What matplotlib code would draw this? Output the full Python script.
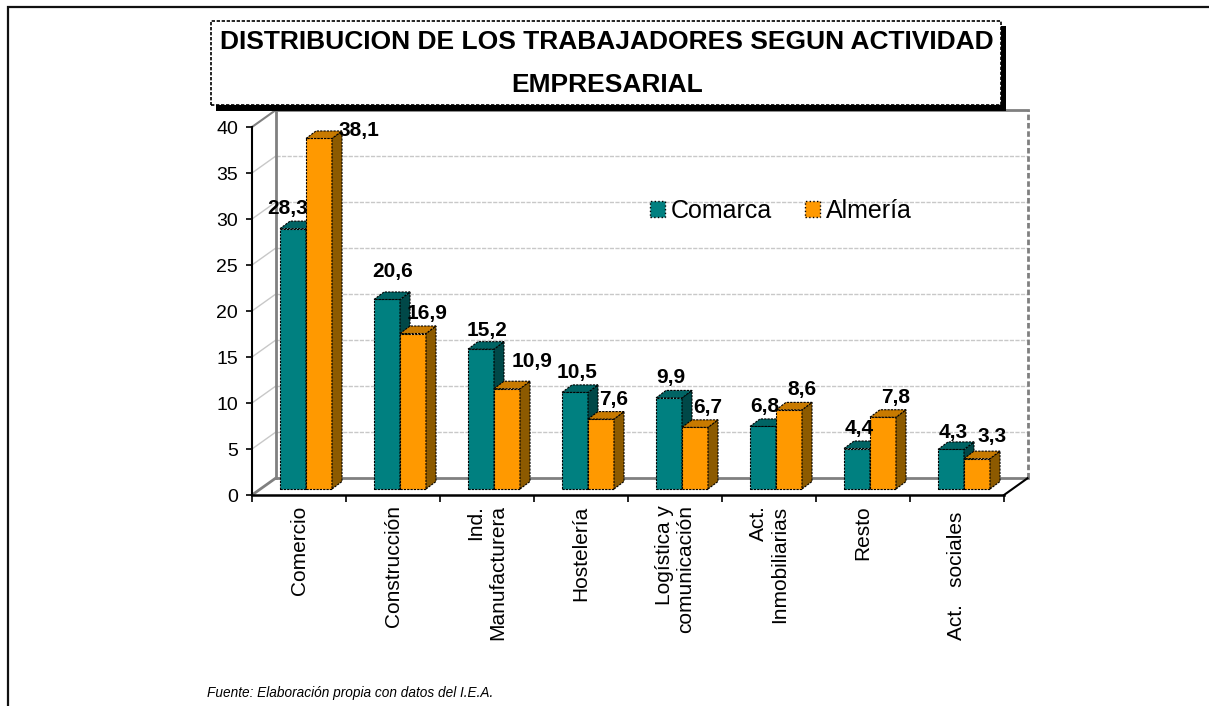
import matplotlib
matplotlib.use('Agg')
import matplotlib.pyplot as plt
from matplotlib.patches import Polygon, Rectangle, Patch
import numpy as np

# ---------------- data ----------------
categories = ['Comercio', 'Construcción', 'Ind.\nManufacturera', 'Hostelería',
              'Logística y\ncomunicación', 'Act.\nInmobiliarias', 'Resto', 'Act.   sociales ']
comarca = [28.3, 20.6, 15.2, 10.5, 9.9, 6.8, 4.4, 4.3]
almeria = [38.1, 16.9, 10.9, 7.6, 6.7, 8.6, 7.8, 3.3]
series_names = ['Comarca', 'Almería']
yticks = [0, 5, 10, 15, 20, 25, 30, 35, 40]
title_lines = ['DISTRIBUCION DE LOS TRABAJADORES SEGUN ACTIVIDAD', 'EMPRESARIAL']
source_text = 'Fuente: Elaboración propia con datos del I.E.A.'

# ---------------- style ----------------
plt.rcParams['font.family'] = ['Liberation Sans', 'DejaVu Sans']
W, H = 1209, 706
fig = plt.figure(figsize=(W / 100, H / 100), dpi=100)
fig.patch.set_facecolor('white')

def fx(px):
    return px / W

def fy(py):
    return 1 - py / H

face = {'Comarca': '#008080', 'Almería': '#FF9900'}
side = {'Comarca': '#004848', 'Almería': '#8C5A00'}
top = {'Comarca': '#006464', 'Almería': '#C87A00'}
edge_ls = (0, (2, 1))

# geometry (pixels)
x0_px, y0_px = 252, 495
cat_px, unit_px = 94, 9.2
n = len(categories)
ymax = 40
wall_dx, wall_dy = 0.25, 1.82          # depth of walls (data units)
bar_x0, bar_w = 28 / 94, 26 / 94         # bar placement within category
base = 6 / 9.2                          # bar base lifted by depth projection
ddx, ddy = 10 / 94, 7.5 / 9.2           # bar depth

ax = fig.add_axes([fx(x0_px), fy(y0_px), (n + wall_dx) * cat_px / W,
                   (ymax + wall_dy) * unit_px / H])
ax.set_xlim(0, n + wall_dx)
ax.set_ylim(0, ymax + wall_dy)
ax.patch.set_alpha(0)

# ---------------- walls ----------------
light = '#C8C8C8'
mid = '#808080'
for v in yticks[1:-1]:
    ax.plot([wall_dx, n + wall_dx], [v + wall_dy] * 2, color=light, lw=1,
            ls=(0, (3, 1)), zorder=1, clip_on=False)
    ax.plot([0, wall_dx], [v, v + wall_dy], color=light, lw=1, zorder=1, clip_on=False)
ax.plot([0, wall_dx], [ymax, ymax + wall_dy], color=mid, lw=1.5, zorder=1, clip_on=False)
ax.plot([wall_dx, n + wall_dx], [ymax + wall_dy] * 2, color=mid, lw=2, zorder=1, clip_on=False)
ax.plot([wall_dx] * 2, [wall_dy, ymax + wall_dy], color=mid, lw=2, zorder=1, clip_on=False)
ax.plot([n + wall_dx] * 2, [wall_dy, ymax + wall_dy], color=mid, lw=2,
        ls=(0, (2, 1)), zorder=1, clip_on=False)
ax.plot([0, wall_dx], [0, wall_dy], color=mid, lw=2, zorder=1, clip_on=False)
ax.plot([wall_dx, n + wall_dx], [wall_dy] * 2, color=mid, lw=2, zorder=1, clip_on=False)
ax.plot([n, n + wall_dx], [0, wall_dy], color='black', lw=1.5, zorder=1, clip_on=False)

# ---------------- bars ----------------
x = np.arange(n)
label_off = {
    'Comarca': [(-5, -20), (6, -28), (6, -19), (2, -20), (2, -20), (2, -20), (2, -20), (2, -17)],
    'Almería': [(40, -8), (14, -20), (25, -27), (13, -20), (13, -20), (13, -20), (13, -20), (15, -22)],
}
z = 3
for si, (name, vals) in enumerate(zip(series_names, [comarca, almeria])):
    left = x + bar_x0 + si * bar_w
    bars = ax.bar(left, vals, width=bar_w, bottom=base, align='edge',
                  color=face[name], edgecolor='black', linewidth=0.8, zorder=z)
    for b in bars:
        b.set_linestyle(edge_ls)
    for xl, v in zip(left, vals):
        xr = xl + bar_w
        yt = base + v
        sp = Polygon([(xr, base), (xr + ddx, base + ddy), (xr + ddx, yt + ddy), (xr, yt)],
                     closed=True, facecolor=side[name], edgecolor='black', lw=0.8,
                     ls=edge_ls, zorder=z)
        tp = Polygon([(xl, yt), (xl + ddx, yt + ddy), (xr + ddx, yt + ddy), (xr, yt)],
                     closed=True, facecolor=top[name], edgecolor='black', lw=0.8,
                     ls=edge_ls, zorder=z)
        ax.add_patch(sp)
        ax.add_patch(tp)
    for j, (xl, v) in enumerate(zip(left, vals)):
        ox, oy = label_off[name][j]
        ax.annotate(f'{v:.1f}'.replace('.', ','), xy=(xl + bar_w / 2, base + v),
                    xytext=(ox, -oy), textcoords='offset pixels', ha='center', va='center',
                    fontsize=15, fontweight='bold', zorder=10, annotation_clip=False)
    z += 1

# ---------------- axes ----------------
for s in ['top', 'right']:
    ax.spines[s].set_visible(False)
ax.spines['left'].set_bounds(0, ymax)
ax.spines['bottom'].set_bounds(0, n)
ax.spines['left'].set_linewidth(1.5)
ax.spines['bottom'].set_linewidth(1.8)
ax.spines['left'].set_zorder(2)
ax.set_yticks(yticks)
ax.set_yticklabels([str(t) for t in yticks], fontsize=14)
ax.tick_params(axis='y', direction='out', length=4, width=1.2, pad=6)
ax.set_xticks(np.arange(n + 1))
ax.set_xticklabels([])
ax.set_xticks(x + 0.5, minor=True)
ax.set_xticklabels(categories, minor=True, rotation=90, fontsize=15,
                   multialignment='right', va='top', ha='center')
ax.tick_params(axis='x', which='major', direction='out', length=5, width=1.2)
ax.tick_params(axis='x', which='minor', length=0, pad=7.5)

# ---------------- legend ----------------
handles = [Patch(facecolor=face[nm], edgecolor='black', linestyle=':', linewidth=1)
           for nm in series_names]
fig.legend(handles, series_names, loc='center', bbox_to_anchor=(fx(781), fy(211)),
           ncol=2, frameon=False, fontsize=18, handlelength=0.6, handleheight=0.6,
           handletextpad=0.25, columnspacing=1.3, borderpad=0)

# ---------------- title box ----------------
fig.add_artist(Rectangle((fx(216), fy(111)), fx(1006) - fx(216), fy(26) - fy(111),
                         transform=fig.transFigure, facecolor='black', edgecolor='none',
                         zorder=20))
fig.add_artist(Rectangle((fx(211), fy(105)), fx(1001) - fx(211), fy(21) - fy(105),
                         transform=fig.transFigure, facecolor='white', edgecolor='black',
                         lw=1.2, ls=(0, (2, 1)), zorder=21))
fig.text(fx(607), fy(42), title_lines[0], ha='center', va='center', fontsize=19,
         fontweight='bold', zorder=22)
fig.text(fx(607), fy(85), title_lines[1], ha='center', va='center', fontsize=19,
         fontweight='bold', zorder=22)

# ---------------- outer frame ----------------
fig.add_artist(Rectangle((fx(8), fy(730)), fx(1230) - fx(8), fy(7) - fy(730),
                         transform=fig.transFigure, facecolor='none', edgecolor='#111111',
                         lw=1.6, ls='-', zorder=30))

# ---------------- source ----------------
fig.text(fx(207), fy(693), source_text, ha='left', va='center', fontsize=9.8,
         style='italic')

fig.savefig('out.png', dpi=100)
